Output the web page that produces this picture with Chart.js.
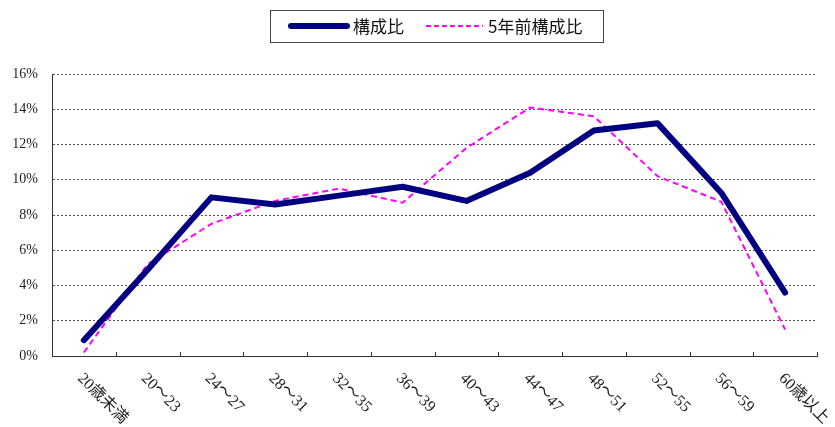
<!DOCTYPE html>
<html>
<head>
<meta charset="utf-8">
<script src="https://cdn.jsdelivr.net/npm/chart.js@4"></script>
<style>
  html, body { margin: 0; padding: 0; background: #fff; }
  #wrap { width: 835px; height: 427px; }
</style>
</head>
<body>
<div id="wrap"><canvas id="ageChart" width="835" height="427"></canvas></div>
<script>
// age bands and shares (%)
var ageLabels = ['20歳未満', '20～23', '24～27', '28～31', '32～35', '36～39',
                 '40～43', '44～47', '48～51', '52～55', '56～59', '60歳以上'];
var shareNow = [0.9, 4.9, 9.0, 8.6, 9.1, 9.6, 8.8, 10.4, 12.8, 13.2, 9.25, 3.6];
var share5yAgo = [0.2, 5.2, 7.5, 8.8, 9.5, 8.7, 11.8, 14.1, 13.6, 10.2, 8.75, 1.5];
var seriesNames = ['構成比', '5年前構成比'];
var yTicks = [0, 2, 4, 6, 8, 10, 12, 14, 16];

var serifFont = '"Liberation Serif", "Noto Sans CJK JP", serif';
var gothicFont = '"Noto Sans CJK JP", "Noto Sans", sans-serif';

// legend box, inward x ticks and slanted category labels
var extras = {
    id: 'extras',
    afterDraw: function (chart) {
        var ctx = chart.ctx;
        var xs = chart.scales.x;
        var area = chart.chartArea;

        // small tick marks between categories, pointing up into the plot
        ctx.save();
        ctx.strokeStyle = '#333';
        ctx.lineWidth = 1;
        for (var i = 0; i <= ageLabels.length; i++) {
            var tx = Math.round(xs.getPixelForValue(i - 0.5)) + 0.5;
            ctx.beginPath();
            ctx.moveTo(tx, area.bottom);
            ctx.lineTo(tx, area.bottom - 4);
            ctx.stroke();
        }
        ctx.restore();

        // category labels, slanted down to the right
        ctx.save();
        ctx.fillStyle = '#222';
        ctx.font = '16px ' + serifFont;
        ctx.textAlign = 'left';
        ctx.textBaseline = 'middle';
        ageLabels.forEach(function (lab, i) {
            var cx = xs.getPixelForValue(i);
            ctx.save();
            ctx.translate(cx - 4, area.bottom + 20);
            ctx.rotate(Math.PI / 4);
            ctx.fillText(lab, 0, 0);
            ctx.restore();
        });
        ctx.restore();

        // legend
        ctx.save();
        ctx.strokeStyle = '#444';
        ctx.lineWidth = 1;
        ctx.strokeRect(270.5, 10.5, 333, 32);

        ctx.lineCap = 'round';
        ctx.strokeStyle = '#000080';
        ctx.lineWidth = 6;
        ctx.beginPath();
        ctx.moveTo(291, 26);
        ctx.lineTo(347, 26);
        ctx.stroke();

        ctx.lineCap = 'butt';
        ctx.strokeStyle = '#ff00ff';
        ctx.lineWidth = 2;
        ctx.setLineDash([5, 3]);
        ctx.beginPath();
        ctx.moveTo(426, 26);
        ctx.lineTo(483, 26);
        ctx.stroke();
        ctx.setLineDash([]);

        ctx.fillStyle = '#111';
        ctx.font = '17px ' + gothicFont;
        ctx.textBaseline = 'middle';
        ctx.textAlign = 'left';
        ctx.fillText(seriesNames[0], 353, 27);
        ctx.fillText(seriesNames[1], 488, 27);
        ctx.restore();
    }
};

var ctx = document.getElementById('ageChart').getContext('2d');
var ageChart = new Chart(ctx, {
    type: 'line',
    data: {
        labels: ageLabels,
        datasets: [{
            label: seriesNames[0],
            data: shareNow,
            borderColor: '#000080',
            borderWidth: 6,
            borderJoinStyle: 'round',
            borderCapStyle: 'round',
            pointRadius: 0,
            tension: 0
        }, {
            label: seriesNames[1],
            data: share5yAgo,
            borderColor: '#ff00ff',
            borderWidth: 2,
            borderDash: [6, 4],
            pointRadius: 0,
            tension: 0
        }]
    },
    options: {
        responsive: false,
        animation: false,
        layout: {
            padding: { top: 74, right: 18, bottom: 0, left: 0 }
        },
        plugins: {
            legend: { display: false },
            tooltip: { enabled: false }
        },
        scales: {
            x: {
                offset: true,
                grid: { display: false },
                border: { display: true, color: '#333', width: 1 },
                ticks: { display: false },
                afterFit: function (scale) { scale.height = 71; }
            },
            y: {
                min: 0,
                max: 16,
                afterBuildTicks: function (scale) {
                    scale.ticks = yTicks.map(function (v) { return { value: v }; });
                },
                grid: { color: '#555', drawTicks: false, lineWidth: 1 },
                border: { display: true, color: '#333', width: 1, dash: [2, 2] },
                ticks: {
                    padding: 14,
                    color: '#222',
                    font: { family: serifFont, size: 14 },
                    callback: function (v) { return v + '%'; }
                },
                afterFit: function (scale) { scale.width = 52; }
            }
        }
    },
    plugins: [extras]
});
</script>
</body>
</html>
